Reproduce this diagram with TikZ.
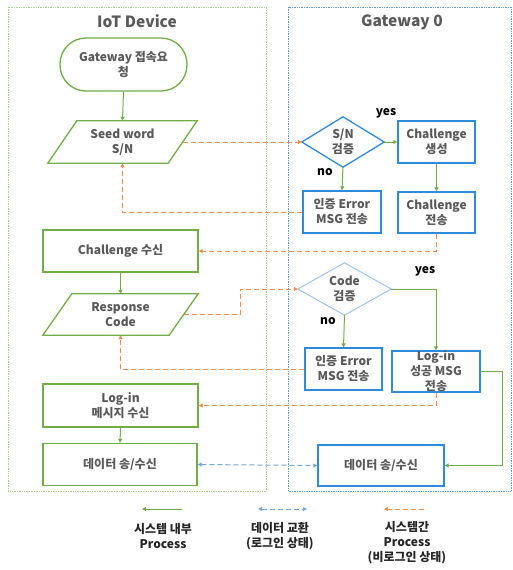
\documentclass[tikz,border=0pt]{standalone}
\usepackage{fontspec}
\setmainfont{Noto Sans CJK KR}
\usetikzlibrary{arrows.meta,calc}
\definecolor{txtgray}{HTML}{595959}
\definecolor{flowgreen}{HTML}{70AD47}
\definecolor{panelgreen}{HTML}{A9D18E}
\definecolor{boxblue}{HTML}{2E8BDB}
\definecolor{lightblue}{HTML}{9DC3E6}
\definecolor{panelblue}{HTML}{5B9BD5}
\definecolor{dashblue}{HTML}{6FA8DC}
\definecolor{orangeline}{HTML}{F4894A}
\begin{document}
\begin{tikzpicture}[x=1pt,y=-1pt,
  every node/.style={font=\fontsize{12}{15}\selectfont\bfseries, text=txtgray, align=center},
  gbox/.style={draw=flowgreen, line width=1.3pt, rectangle, inner sep=0pt},
  bbox/.style={draw=boxblue, line width=1.3pt, rectangle, inner sep=0pt},
  slot/.style={rectangle, inner sep=0pt},
  panel/.style={densely dotted, line width=0.7pt},
  tip/.style={-{Triangle[length=4pt,width=4pt]}},
  inner/.style={draw=flowgreen, line width=1pt, tip},
  cross/.style={draw=orangeline, line width=1pt, dash pattern=on 5pt off 3pt, tip},
  datalink/.style={draw=dashblue, line width=1pt, dash pattern=on 5pt off 3pt,
    {Triangle[length=4pt,width=4pt]}-{Triangle[length=4pt,width=4pt]}},
  title/.style={font=\fontsize{15.5}{18}\selectfont\bfseries},
  yn/.style={text=black},
  legend/.style={text=black!85}
]
\useasboundingbox (0,0) rectangle (512,570);

% panels
\draw[panel, draw=panelgreen] (8,7) rectangle (266,491);
\draw[panel, draw=panelblue] (288,7) rectangle (511,491);
\node[title] (ttiot) at (137,21) {IoT Device};
\node[title] (ttgw) at (402,22) {Gateway 0};

% IoT device side
\node[gbox, rounded corners=26pt, minimum width=127pt, minimum height=53pt] (start) at (123.5,64.5) {Gateway 접속요\\청};
\node[slot, minimum width=120pt, minimum height=42pt] (seed) at (122.5,142) {Seed word\\S/N};
\draw[draw=flowgreen, line width=1.3pt] ([xshift=14.5pt]seed.north west) -- ([xshift=14.5pt]seed.north east)
  -- ([xshift=-14.5pt]seed.south east) -- ([xshift=-14.5pt]seed.south west) -- cycle;
\node[gbox, minimum width=155pt, minimum height=42pt] (chrecv) at (120.5,251) {Challenge 수신};
\node[slot, minimum width=126pt, minimum height=41pt] (resp) at (120.5,314.5) {Response\\Code};
\draw[draw=flowgreen, line width=1.3pt] ([xshift=14.5pt]resp.north west) -- ([xshift=14.5pt]resp.north east)
  -- ([xshift=-14.5pt]resp.south east) -- ([xshift=-14.5pt]resp.south west) -- cycle;
\node[gbox, minimum width=155pt, minimum height=43pt] (lrecv) at (120.5,405.5) {Log-in\\메시지 수신};
\node[gbox, minimum width=154pt, minimum height=42pt] (ldata) at (120,464.5) {데이터 송/수신};

% gateway side
\node[slot, minimum width=82pt, minimum height=50pt] (snchk) at (343,142) {S/N\\검증};
\draw[draw=boxblue, line width=1.3pt] (snchk.north) -- (snchk.east) -- (snchk.south) -- (snchk.west) -- cycle;
\node[bbox, minimum width=77pt, minimum height=42pt] (chgen) at (436.5,142) {Challenge\\생성};
\node[bbox, minimum width=78pt, minimum height=42pt] (err1) at (342,212) {인증 Error\\MSG 전송};
\node[bbox, minimum width=77pt, minimum height=41pt] (chsend) at (436.5,212.5) {Challenge\\전송};
\node[slot, minimum width=93pt, minimum height=52pt] (codechk) at (344.5,289) {Code\\검증};
\draw[draw=lightblue, line width=1pt] (codechk.north) -- (codechk.east) -- (codechk.south) -- (codechk.west) -- cycle;
\node[bbox, minimum width=77pt, minimum height=42pt] (err2) at (343.5,369) {인증 Error\\MSG 전송};
% the text of this box runs slightly past its frame
\node[bbox, minimum width=88pt, minimum height=41pt] (logok) at (436,371.5) {};
\node[inner sep=0pt] (logoktxt) at (logok.center) {Log-in\\성공 MSG\\전송};
\node[bbox, minimum width=126pt, minimum height=41pt] (rdata) at (381,465.5) {데이터 송/수신};

\node[yn] (yes1) at (386,113) {yes};
\node[yn] (no1) at (325,172) {no};
\node[yn] (yes2) at (425,271) {yes};
\node[yn] (no2) at (328,321) {no};

% flow inside each system
\draw[inner] (start.south) -- (seed.north);
\draw[inner] (chrecv.south) -- (resp.north);
\draw[inner] (lrecv.south) -- (ldata.north);
\draw[inner] (snchk.east) -- (chgen.west);
\draw[inner] (snchk.south) -- (err1.north);
\draw[inner] (chgen.south) -- (chsend.north);
\draw[inner] (codechk.south) -- (err2.north);
\draw[inner] (codechk.east) -| (logok.north);
\draw[inner] (logok.east) -- ++(22,0) |- (rdata.east);

% messages between the systems
\draw[cross] (seed.east) -- (snchk.west);
\draw[cross] (err1.west) -| (seed.south);
\draw[cross] (chsend.south) |- (chrecv.east);
\draw[cross] (resp.east) -- ++(56.5,0) |- (codechk.west);
\draw[cross] (err2.west) -| (resp.south);
\draw[cross] (logok.south) |- (lrecv.east);
\draw[datalink] (ldata.east) -- (rdata.west);

% legend
\coordinate (lg1a) at (182,509); \coordinate (lg1b) at (142,509);
\coordinate (lg2a) at (258,509); \coordinate (lg2b) at (307,509);
\coordinate (lg3a) at (424,509); \coordinate (lg3b) at (384,509);
\draw[inner] (lg1a) -- (lg1b);
\draw[datalink] (lg2a) -- (lg2b);
\draw[cross] (lg3a) -- (lg3b);
\node[legend] (lgt1) at (163,536) {시스템 내부\\Process};
\node[legend] (lgt2) at (280,536) {데이터 교환\\(로그인 상태)};
\node[legend] (lgt3) at (407,543) {시스템간\\Process\\(비로그인 상태)};
\end{tikzpicture}
\end{document}
